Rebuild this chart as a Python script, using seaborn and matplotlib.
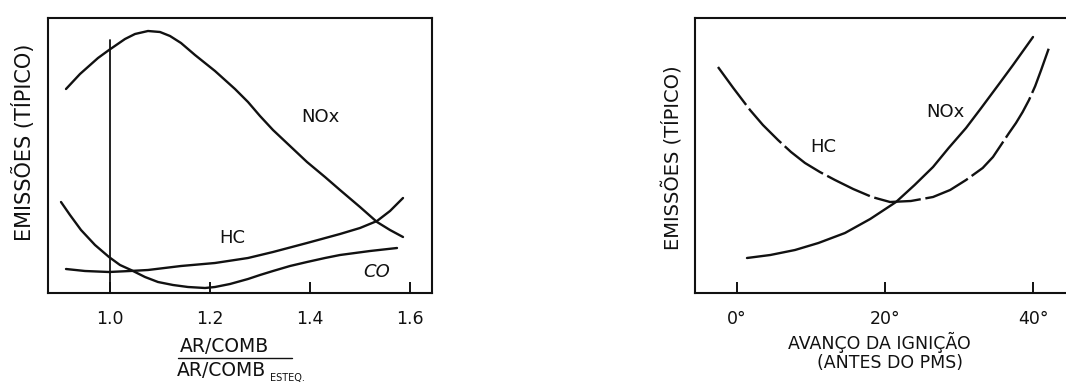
import matplotlib
matplotlib.use("Agg")
import matplotlib.pyplot as plt
import seaborn as sns
import pandas as pd

# ---------------- data ----------------
# Left panel: emissions vs relative air/fuel ratio
lam_nox = [0.912, 0.94, 0.976, 0.998, 1.03, 1.05, 1.076, 1.10, 1.12, 1.142, 1.17,
           1.21, 1.25, 1.276, 1.30, 1.326, 1.36, 1.394, 1.43, 1.46, 1.50, 1.534,
           1.56, 1.586]
nox_left = [204, 219, 235, 243, 254, 259, 262, 261, 257, 250, 238,
            222, 204, 191, 177, 163, 147, 131, 116, 103, 86, 71,
            63, 56]

lam_hc = [0.912, 0.95, 0.998, 1.04, 1.076, 1.142, 1.21, 1.276, 1.326, 1.394,
          1.46, 1.50, 1.534, 1.56, 1.586]
hc_left = [24, 22, 21, 22, 23, 27, 30, 35, 41, 50, 59, 65, 72, 82, 95]

lam_co = [0.902, 0.92, 0.942, 0.97, 0.998, 1.02, 1.042, 1.07, 1.096, 1.126, 1.156,
          1.19, 1.21, 1.24, 1.276, 1.30, 1.326, 1.36, 1.394, 1.43, 1.46, 1.52, 1.574]
co_left = [91, 78, 63, 48, 36, 28, 23, 16, 11, 8, 6,
           5, 6, 9, 14, 18, 22, 27, 31, 35, 38, 42, 45]

left_ticks = [1.0, 1.2, 1.4, 1.6]
left_ticklabels = ["1.0", "1.2", "1.4", "1.6"]

# Right panel: emissions vs spark advance (degrees BTDC)
adv_hc = [-2.57, -0.5, 1.76, 3.5, 5.54, 7.3, 9.19, 11.2, 13.24, 15.7, 18.24, 20.68,
          23.5, 26.49, 28.8, 30.95, 33.2, 34.59, 36.76, 37.7, 38.6, 39.46, 40.3,
          41.1, 42.2]
hc_right = [226, 205, 183, 168, 153, 141, 130, 121, 113, 104, 96, 91,
            92, 96, 103, 113, 125, 136, 160, 170, 181, 193, 207,
            223, 246]

adv_nox = [1.35, 4.5, 7.84, 11.0, 14.59, 18.0, 21.49, 24.0, 26.49, 28.6, 30.95,
           33.0, 35.41, 37.3, 40.0]
nox_right = [35, 38, 43, 50, 60, 74, 91, 108, 126, 145, 165,
             185, 209, 228, 256]

right_ticks = [0, 20, 40]
right_ticklabels = ["0°", "20°", "40°"]

# ---------------- figure ----------------
sns.set_theme(style="white")
plt.rcParams["font.family"] = ["DejaVu Sans"]

W, H = 1066, 383
fig = plt.figure(figsize=(W / 100, H / 100), dpi=100)
fig.patch.set_facecolor("white")


def px_rect(x0, y0, x1, y1):
    return [x0 / W, 1 - y1 / H, (x1 - x0) / W, (y1 - y0) / H]


axL = fig.add_axes(px_rect(48, 18, 432, 293))
axR = fig.add_axes(px_rect(695, 18, 1080, 293))

lw = 1.7
black = "#111111"

# left panel curves
dfL = pd.concat([
    pd.DataFrame({"x": lam_nox, "y": nox_left, "g": "NOx"}),
    pd.DataFrame({"x": lam_hc, "y": hc_left, "g": "HC"}),
    pd.DataFrame({"x": lam_co, "y": co_left, "g": "CO"}),
])
sns.lineplot(data=dfL, x="x", y="y", units="g", estimator=None, sort=False,
             color=black, linewidth=lw, ax=axL, legend=False)
axL.plot([1.0, 1.0], [0, 253], color=black, linewidth=1.3)

axL.set_xlim(0.876, 1.644)
axL.set_ylim(0, 275)
axL.set_xticks(left_ticks)
axL.set_xticklabels(left_ticklabels)
axL.text(1.42, 176, "NOx", fontsize=13, ha="center", va="center", color=black)
axL.text(1.244, 55, "HC", fontsize=13, ha="center", va="center", color=black)
axL.text(1.534, 21, "CO", fontsize=13, ha="center", va="center", color=black,
         style="italic")

# right panel curves
sns.lineplot(x=adv_nox, y=nox_right, sort=False, estimator=None,
             color=black, linewidth=lw, ax=axR)
sns.lineplot(x=adv_hc, y=hc_right, sort=False, estimator=None,
             color=black, linewidth=lw, ax=axR)
axR.lines[-1].set_dashes([20, 2])

axR.set_xlim((695 - 737) / 7.4, (1080 - 737) / 7.4)
axR.set_ylim(0, 275)
axR.set_xticks(right_ticks)
axR.set_xticklabels(right_ticklabels)
axR.text(11.6, 146, "HC", fontsize=13, ha="center", va="center", color=black)
axR.text(28.1, 181, "NOx", fontsize=13, ha="center", va="center", color=black)

for ax in (axL, axR):
    ax.set_facecolor("white")
    ax.set_yticks([])
    ax.set_xlabel("")
    ax.set_ylabel("")
    for s in ax.spines.values():
        s.set_color(black)
        s.set_linewidth(1.5)
        s.set_visible(True)
    ax.tick_params(axis="x", direction="in", length=8, width=1.4, colors=black,
                   labelsize=12.5, pad=12, bottom=True)
    ax.grid(False)

# y labels
fig.text(24 / W, 1 - 142 / H, "EMISSÕES (TÍPICO)", rotation=90, fontsize=15,
         ha="center", va="center", color=black)
fig.text(673 / W, 1 - 158 / H, "EMISSÕES (TÍPICO)", rotation=90, fontsize=14,
         ha="center", va="center", color=black)

# left x label (fraction)
fig.text(224 / W, 1 - 347 / H, "AR/COMB", fontsize=13.5, ha="center", va="center",
         color=black)
fig.add_artist(plt.Line2D([178 / W, 292 / W], [1 - 358 / H, 1 - 358 / H],
                          color=black, linewidth=1.0))
fig.text(177 / W, 1 - 371 / H, "AR/COMB", fontsize=13.5, ha="left", va="center",
         color=black)
fig.text(270 / W, 1 - 378 / H, "ESTEQ.", fontsize=7, ha="left", va="center",
         color=black)

# right x label
fig.text(879 / W, 1 - 342 / H, "AVANÇO DA IGNIÇÃO", fontsize=12.5, ha="center",
         va="center", color=black)
fig.text(890 / W, 1 - 363 / H, "(ANTES DO PMS)", fontsize=12.5, ha="center",
         va="center", color=black)

fig.savefig("out.png", dpi=100, facecolor="white")
